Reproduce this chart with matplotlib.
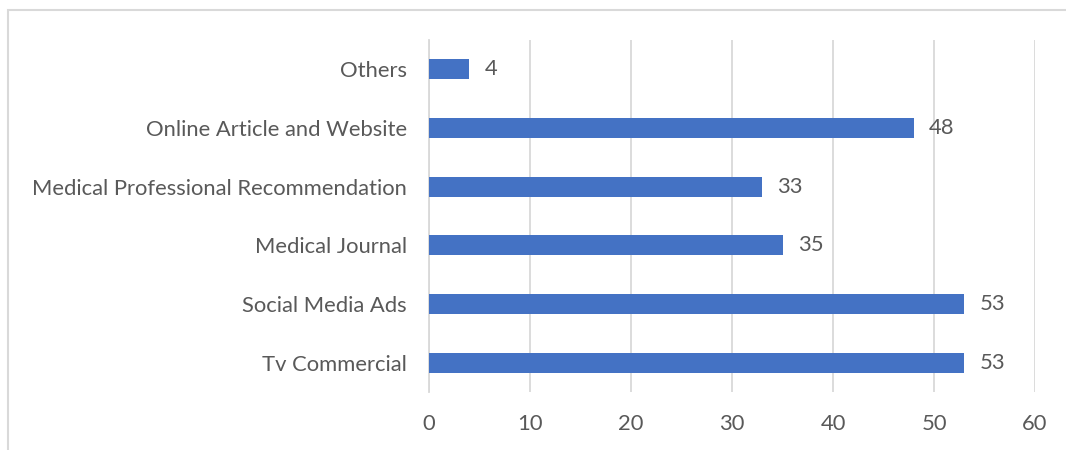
import matplotlib.pyplot as plt
from matplotlib.patches import Rectangle

categories = ["Tv Commercial", "Social Media Ads", "Medical Journal",
              "Medical Professional Recommendation", "Online Article and Website", "Others"]
values = [53, 53, 35, 33, 48, 4]
xticks = [0, 10, 20, 30, 40, 50, 60]

plt.rcParams['font.family'] = ['Lato', 'DejaVu Sans']
text_color = '#595959'
grid_color = '#d9d9d9'
bar_color = '#4472C4'
fs = 15.8

W, H = 1066, 450
fig = plt.figure(figsize=(W / 100, H / 100), dpi=100)

# outer chart frame (partially clipped at the right/bottom edges)
fig.patches.append(Rectangle((8 / W, -0.1), 1.2, 1 - 10 / H + 0.1, transform=fig.transFigure,
                             fill=False, edgecolor=grid_color, linewidth=1.5))

ax = fig.add_axes([429 / W, 1 - 392 / H, (1035 - 429) / W, (392 - 40) / H])
y = range(len(categories))
ax.barh(y, values, height=0.34, color=bar_color, zorder=3)
for yi, v in zip(y, values):
    ax.text(v + 1.5, yi, f"{v}", va='center', ha='left', fontsize=fs, color=text_color)

ax.set_xlim(0, 60)
ax.set_ylim(-0.5, len(categories) - 0.5)
ax.set_xticks(xticks)
ax.set_yticks(list(y))
ax.set_yticklabels(categories)
ax.tick_params(axis='both', length=0, labelsize=fs, labelcolor=text_color)
ax.tick_params(axis='y', pad=16)
ax.tick_params(axis='x', pad=16)
ax.grid(axis='x', color=grid_color, linewidth=1.3, zorder=0)
for s in ['top', 'right', 'bottom']:
    ax.spines[s].set_visible(False)
ax.spines['left'].set_color(grid_color)
ax.spines['left'].set_linewidth(1.3)

fig.savefig('out.png', dpi=100)
